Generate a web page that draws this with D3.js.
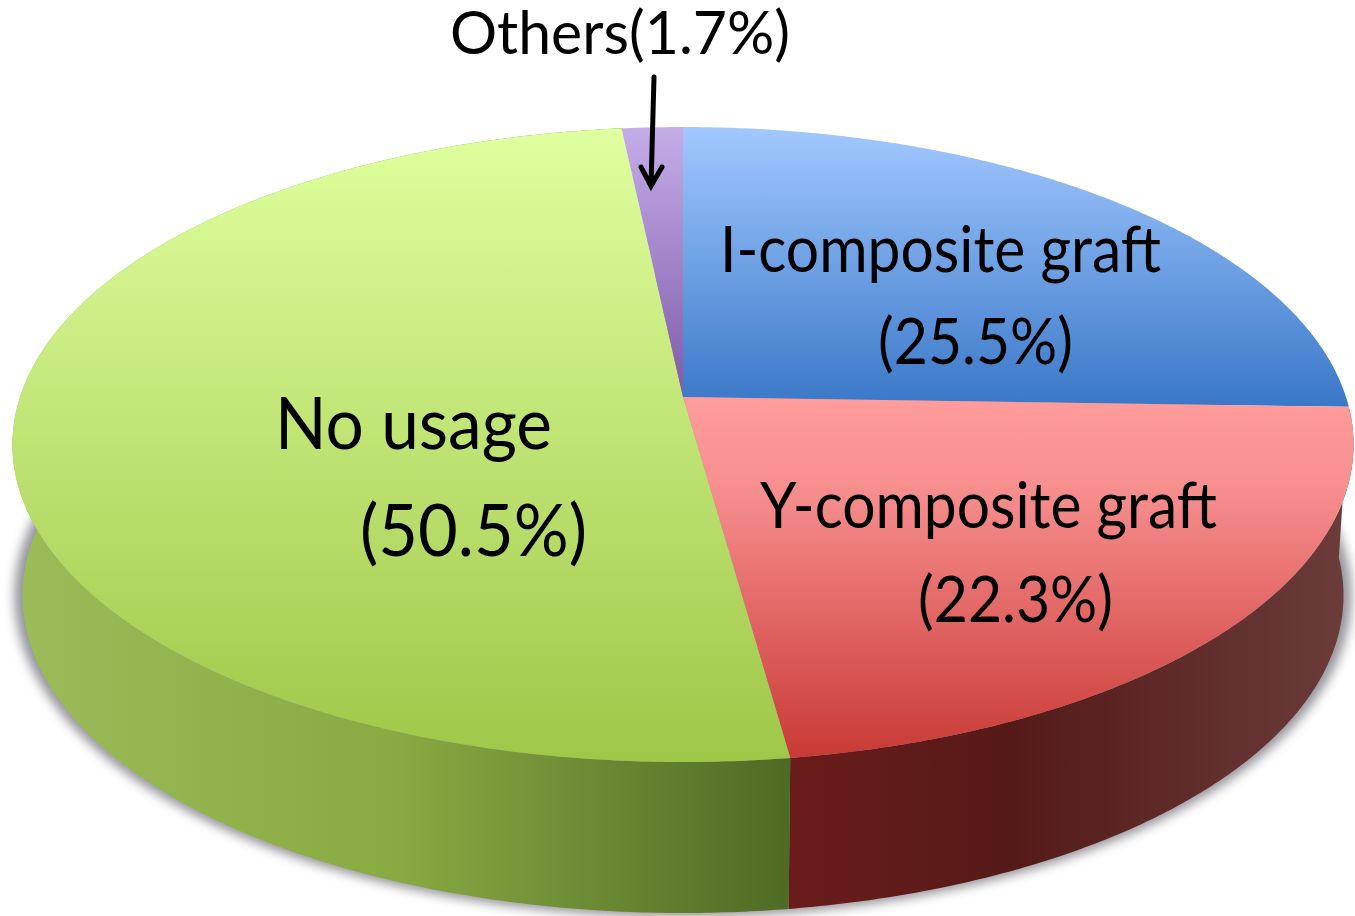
<!DOCTYPE html>
<html>
<head>
<meta charset="utf-8">
<script src="https://cdn.jsdelivr.net/npm/d3@7"></script>
<style>
  html, body { margin: 0; background: #fff; }
  svg { display: block; }
  text { font-family: Lato, "Open Sans", sans-serif; fill: #000; }
</style>
</head>
<body>
<div id="chart"></div>
<script>
var categories = ["I-composite graft", "Y-composite graft", "No usage", "Others"];
var values = [25.5, 22.3, 50.5, 1.7];

var width = 1355, height = 916;

// perspective disc: v = -1 far edge, v = 1 near edge
var cx = 683, cy = 397, rad = 663, persp = -0.1496, vScale = 251;
var depth = 151, bottomScale = 0.985;

function projectTop(a) {
    var u = Math.sin(a), v = -Math.cos(a), w = 1 + persp * v;
    return [cx + rad * u / w, (vScale * v + cy) / w];
}
function projectBottom(a) {
    var p = projectTop(a);
    return [cx + (p[0] - cx) * bottomScale, p[1] + depth];
}

var line = d3.line();
var svg = d3.select("#chart").append("svg")
    .attr("width", width)
    .attr("height", height);
var defs = svg.append("defs");

function addGradient(id, x1, y1, x2, y2, stops) {
    var g = defs.append("linearGradient")
        .attr("id", id)
        .attr("gradientUnits", "userSpaceOnUse")
        .attr("x1", x1).attr("y1", y1).attr("x2", x2).attr("y2", y2);
    stops.forEach(function(s) {
        g.append("stop").attr("offset", s[0]).attr("stop-color", s[1]);
    });
}

addGradient("top0", 0, 127, 0, 405, [[0, "#a2c8ff"], [1, "#3a78c8"]]);
addGradient("top1", 0, 397, 0, 757, [[0, "#ff9c9c"], [0.25, "#f78f8f"], [1, "#c93a36"]]);
addGradient("top2", 0, 127, 0, 760, [[0, "#e0ff9f"], [1, "#9fc748"]]);
addGradient("top3", 0, 127, 0, 397, [[0, "#c5ade9"], [1, "#7f5aa8"]]);
addGradient("side1", 790, 0, 1345, 0, [[0, "#6a1c1a"], [0.4, "#541a18"], [1, "#6a3c3a"]]);
addGradient("side2", 12, 0, 790, 0, [[0, "#9cbc5a"], [0.5, "#89a942"], [1, "#4f6a25"]]);

var blur = defs.append("filter").attr("id", "soft")
    .attr("x", "-5%").attr("y", "-5%").attr("width", "110%").attr("height", "110%");
blur.append("feGaussianBlur").attr("stdDeviation", 5);

var arcs = d3.pie().sort(null).startAngle(0).endAngle(2 * Math.PI)(values);

function arcAngles(d) {
    var n = Math.max(2, Math.ceil((d.endAngle - d.startAngle) * 120));
    return d3.range(n + 1).map(function(i) {
        return d.startAngle + (d.endAngle - d.startAngle) * i / n;
    });
}

// shadow under the base
var ring = d3.range(361).map(function(i) { return i * Math.PI / 180; });
svg.append("path")
    .attr("d", line(ring.map(projectBottom)) + "Z")
    .attr("transform", "translate(683,598) scale(1.012) translate(-683,-598)")
    .attr("fill", "#6f6f78")
    .attr("opacity", 0.75)
    .attr("filter", "url(#soft)");

// outer wall, front slices only, the top covers whatever is behind
svg.append("g").selectAll("path")
    .data(arcs.filter(function(d) { return d.index == 1 || d.index == 2; }))
    .enter().append("path")
    .attr("d", function(d) {
        var angles = arcAngles(d);
        return line(angles.map(projectTop).concat(angles.slice().reverse().map(projectBottom))) + "Z";
    })
    .attr("fill", function(d) { return "url(#side" + d.index + ")"; });

// top face
svg.append("g").selectAll("path")
    .data(arcs)
    .enter().append("path")
    .attr("d", function(d) {
        return line([[cx, cy]].concat(arcAngles(d).map(projectTop))) + "Z";
    })
    .attr("fill", function(d) { return "url(#top" + d.index + ")"; });

// labels: category line, then percent line
var labelLines = [
    { text: categories[0], x: 720, y: 272, w: 441, size: 64 },
    { text: "(" + values[0].toFixed(1) + "%)", x: 878, y: 364, w: 195, size: 64 },
    { text: categories[1], x: 760, y: 528, w: 457, size: 64 },
    { text: "(" + values[1].toFixed(1) + "%)", x: 918, y: 622, w: 195, size: 64 },
    { text: categories[2], x: 275, y: 449, w: 277, size: 72 },
    { text: "(" + values[2].toFixed(1) + "%)", x: 360, y: 556, w: 227, size: 72 },
    { text: categories[3] + "(" + values[3].toFixed(1) + "%)", x: 450, y: 54, w: 340, size: 60 }
];
svg.append("g").selectAll("text")
    .data(labelLines)
    .enter().append("text")
    .attr("x", function(d) { return d.x; })
    .attr("y", function(d) { return d.y; })
    .attr("textLength", function(d) { return d.w; })
    .attr("lengthAdjust", "spacingAndGlyphs")
    .style("font-size", function(d) { return d.size + "px"; })
    .text(function(d) { return d.text; });

// arrow from the Others label into its slice
svg.append("path")
    .attr("d", "M654,77L651,186M641,167L651,186L662,167")
    .attr("fill", "none")
    .attr("stroke", "#000")
    .attr("stroke-width", 5)
    .attr("stroke-linecap", "round")
    .attr("stroke-linejoin", "miter");
</script>
</body>
</html>
